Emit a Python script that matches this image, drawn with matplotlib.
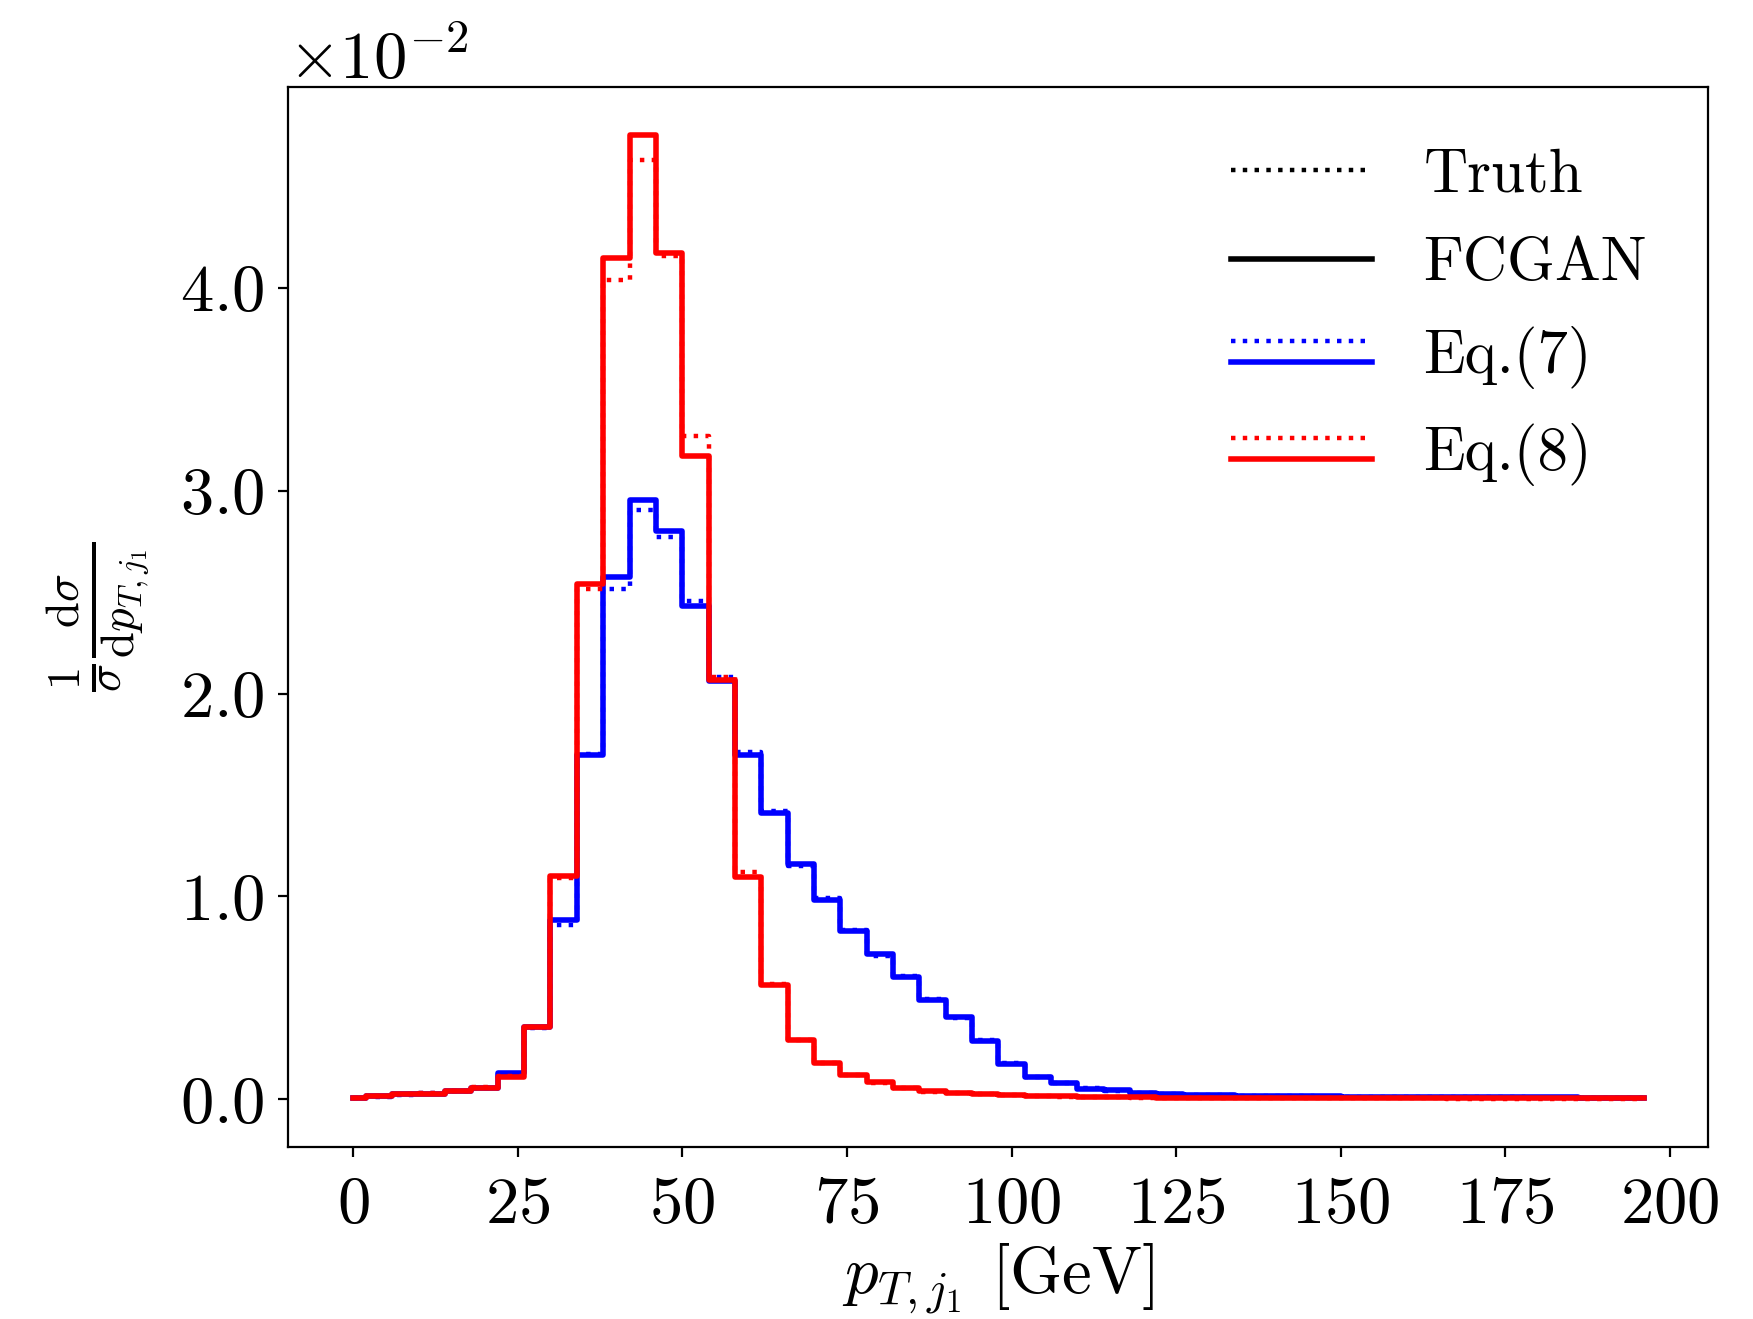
import numpy as np
import matplotlib
matplotlib.use("Agg")
import matplotlib.pyplot as plt
from matplotlib.lines import Line2D
from matplotlib.legend_handler import HandlerBase
from matplotlib.ticker import ScalarFormatter

plt.rcParams.update({
    "font.family": "serif", "font.serif": ["cmr10"], "mathtext.fontset": "cm",
    "axes.formatter.use_mathtext": True, "axes.unicode_minus": False,
    "font.size": 24,
})

# bin centres (GeV), 4 GeV bins; values in units of 1e-2
pt = np.arange(0, 200, 4)

eq7_fcgan = [0.008, 0.015, 0.025, 0.028, 0.040, 0.054, 0.132, 0.357, 0.883, 1.698,
             2.575, 2.957, 2.800, 2.430, 2.060, 1.698, 1.410, 1.158, 0.982, 0.829,
             0.714, 0.604, 0.489, 0.406, 0.286, 0.176, 0.110, 0.082, 0.053, 0.044,
             0.033, 0.028, 0.023, 0.020, 0.018, 0.016, 0.015, 0.014, 0.013, 0.012,
             0.011, 0.011, 0.010, 0.010, 0.009, 0.009, 0.009, 0.008, 0.008, 0.008]
eq7_truth = [0.006, 0.013, 0.022, 0.030, 0.042, 0.058, 0.125, 0.350, 0.860, 1.700,
             2.516, 2.907, 2.770, 2.455, 2.080, 1.714, 1.420, 1.150, 0.990, 0.835,
             0.705, 0.610, 0.495, 0.400, 0.290, 0.180, 0.112, 0.078, 0.055, 0.042,
             0.032, 0.027, 0.022, 0.019, 0.017, 0.016, 0.014, 0.013, 0.012, 0.011,
             0.011, 0.010, 0.010, 0.009, 0.009, 0.008, 0.008, 0.008, 0.007, 0.007]
eq8_fcgan = [0.008, 0.015, 0.025, 0.028, 0.040, 0.054, 0.110, 0.357, 1.100, 2.542,
             4.150, 4.753, 4.170, 3.170, 2.065, 1.097, 0.563, 0.291, 0.181, 0.118,
             0.085, 0.058, 0.040, 0.032, 0.026, 0.020, 0.017, 0.014, 0.012, 0.010,
             0.009, 0.008, 0.008, 0.007, 0.007, 0.006, 0.006, 0.006, 0.005, 0.005,
             0.005, 0.005, 0.005, 0.004, 0.004, 0.004, 0.004, 0.004, 0.004, 0.004]
eq8_truth = [0.006, 0.014, 0.024, 0.030, 0.043, 0.060, 0.115, 0.355, 1.090, 2.516,
             4.040, 4.630, 4.160, 3.270, 2.084, 1.122, 0.570, 0.290, 0.178, 0.120,
             0.082, 0.056, 0.038, 0.030, 0.024, 0.019, 0.015, 0.013, 0.011, 0.009,
             0.008, 0.007, 0.007, 0.006, 0.006, 0.005, 0.005, 0.005, 0.004, 0.004,
             0.004, 0.004, 0.003, 0.003, 0.003, 0.003, 0.003, 0.003, 0.003, 0.003]


class OneDecimal(ScalarFormatter):
    def _set_format(self):
        self.format = r"$\mathdefault{%1.1f}$"


class Stacked(HandlerBase):
    """dotted line on top, solid line below"""
    def create_artists(self, legend, orig_handle, xdescent, ydescent, width,
                       height, fontsize, trans):
        yc = height / 2 - ydescent
        out = []
        for ln, dy in zip(orig_handle, (0.25 * height, -0.25 * height)):
            l = Line2D([-xdescent, width - xdescent], [yc + dy] * 2,
                       color=ln.get_color(), linestyle=ln.get_linestyle(),
                       linewidth=ln.get_linewidth())
            l.set_transform(trans)
            out.append(l)
        return out


fig = plt.figure(figsize=(8.765, 6.595), dpi=200)
ax = fig.add_axes([0.1645, 0.1305, 0.81, 0.8035])

LW_S, LW_D = 2.0, 1.6
scale = 1e-2
b1, = ax.step(pt, np.array(eq7_truth) * scale, where="mid", color="b", ls=":", lw=LW_D)
b2, = ax.step(pt, np.array(eq7_fcgan) * scale, where="mid", color="b", ls="-", lw=LW_S)
r1, = ax.step(pt, np.array(eq8_truth) * scale, where="mid", color="r", ls=":", lw=LW_D)
r2, = ax.step(pt, np.array(eq8_fcgan) * scale, where="mid", color="r", ls="-", lw=LW_S)

fmt = OneDecimal(useMathText=True)
fmt.set_powerlimits((0, 0))
ax.yaxis.set_major_formatter(fmt)
ax.set_xticks([0, 25, 50, 75, 100, 125, 150, 175, 200])
ax.tick_params(axis="x", pad=7)
ax.tick_params(axis="y", pad=5)

ax.set_xlabel(r"$p_{T,j_1}$ [GeV]", labelpad=2)
ax.set_ylabel(r"$\frac{1}{\sigma}\frac{\mathrm{d}\sigma}{\mathrm{d}p_{T,j_1}}$",
              labelpad=10)

handles = [Line2D([], [], color="k", ls=":", lw=LW_D),
           Line2D([], [], color="k", ls="-", lw=LW_S),
           (b1, b2), (r1, r2)]
labels = ["Truth", "FCGAN", "Eq.(7)", "Eq.(8)"]
ax.legend(handles, labels, loc="upper right", frameon=False, fontsize=22,
          handlelength=2.3, handletextpad=0.85, labelspacing=0.55,
          borderaxespad=0.6, handler_map={tuple: Stacked()})

fig.savefig("out.png", dpi=200)
